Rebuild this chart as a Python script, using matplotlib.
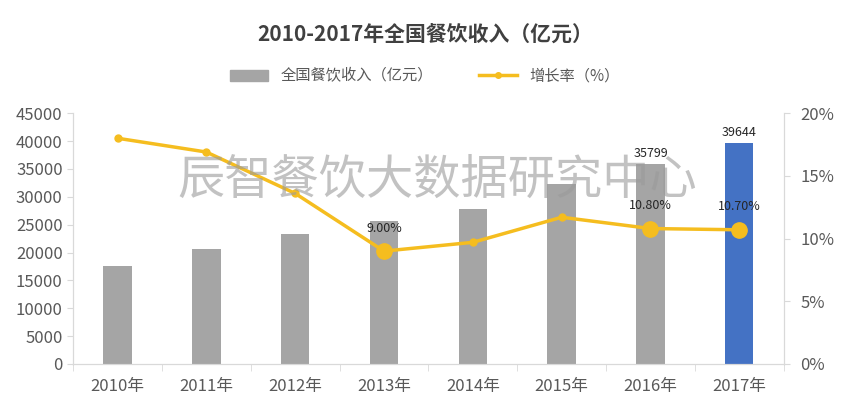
import numpy as np
import matplotlib.pyplot as plt
from matplotlib.lines import Line2D
from matplotlib.patches import Patch

plt.rcParams['font.family'] = ['Noto Sans CJK SC', 'DejaVu Sans']

years = ['2010年', '2011年', '2012年', '2013年', '2014年', '2015年', '2016年', '2017年']
revenue = [17648, 20543, 23283, 25569, 27860, 32310, 35799, 39644]
growth = [18.0, 16.9, 13.6, 9.0, 9.7, 11.7, 10.8, 10.7]
bar_labels = {6: '35799', 7: '39644'}
line_labels = {3: '9.00%', 6: '10.80%', 7: '10.70%'}
big_marks = [3, 6, 7]

gray = '#a5a5a5'
blue = '#4472c4'
gold = '#f5bd1f'
txt = '#595959'
axc = '#d9d9d9'

fig = plt.figure(figsize=(8.5, 4.16), dpi=100)
ax = fig.add_axes([0.086, 0.125, 0.836, 0.603])
ax2 = ax.twinx()

x = np.arange(len(years))
colors = [gray] * 7 + [blue]
ax.bar(x, revenue, width=0.32, color=colors, zorder=2)
ax.set_ylim(0, 45000)
ax.set_yticks(np.arange(0, 45001, 5000))
ax.set_xlim(-0.5, 7.5)
ax.set_xticks(x)
ax.set_xticklabels(years, fontsize=12, color=txt)
ax.set_xticks(np.arange(-0.5, 7.6, 1), minor=True)
ax.tick_params(axis='x', which='major', length=0, pad=10)
ax.tick_params(axis='x', which='minor', length=5, color=axc)
ax.tick_params(axis='y', labelsize=12, labelcolor=txt, length=4, color=axc)
for i, s in bar_labels.items():
    ax.text(i, revenue[i] + 800, s, ha='center', va='bottom', fontsize=9, color='#262626')

ax2.plot(x, growth, color=gold, lw=2.5, marker='o', ms=5, zorder=3)
ax2.plot(x[big_marks], [growth[i] for i in big_marks], 'o', color=gold, ms=11, zorder=4)
ax2.set_ylim(0, 20)
ax2.set_yticks(np.arange(0, 21, 5))
ax2.set_yticklabels([f'{v}%' for v in range(0, 21, 5)])
ax2.tick_params(axis='y', labelsize=12, labelcolor=txt, length=4, color=axc, pad=8)
for i, s in line_labels.items():
    ax2.text(i, growth[i] + 1.3, s, ha='center', va='bottom', fontsize=9, color='#262626')

for a in (ax, ax2):
    a.spines['top'].set_visible(False)
    a.spines['left'].set_color(axc)
    a.spines['right'].set_color(axc)
    a.spines['bottom'].set_color(axc)

# watermark
fig.text(0.515, 0.567, '辰智餐饮大数据研究中心', fontsize=34, color='#9a9a9a',
         alpha=0.6, ha='center', va='center', zorder=10)

fig.text(0.5, 0.915, '2010-2017年全国餐饮收入（亿元）', fontsize=15, fontweight='bold',
         color='#404040', ha='center', va='center')

handles = [Patch(color=gray, label='全国餐饮收入（亿元）'),
           Line2D([0], [0], color=gold, lw=2.5, marker='o', ms=4, label='增长率（%）')]
fig.legend(handles=handles, loc='center', bbox_to_anchor=(0.5, 0.817), ncol=2,
           frameon=False, fontsize=11, labelcolor=txt, handlelength=2.5, columnspacing=3)

fig.savefig('out.png', dpi=100)
